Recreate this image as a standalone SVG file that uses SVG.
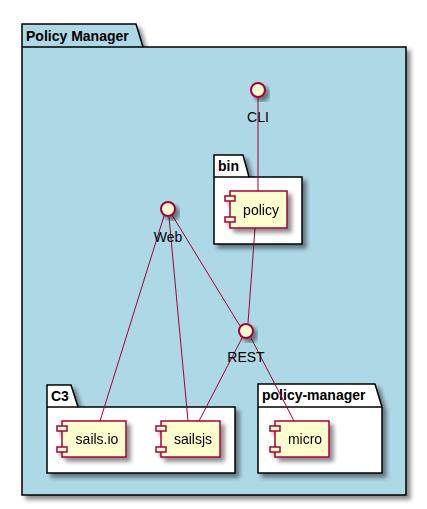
<svg xmlns="http://www.w3.org/2000/svg" width="427" height="509" viewBox="0 0 427 509">
<defs>
<filter id="sh" x="-20%" y="-20%" width="150%" height="150%">
<feGaussianBlur in="SourceAlpha" stdDeviation="2" result="b"/>
<feOffset in="b" dx="4" dy="4" result="o"/>
<feComponentTransfer in="o" result="s"><feFuncA type="linear" slope="0.45"/></feComponentTransfer>
<feMerge><feMergeNode in="s"/><feMergeNode in="SourceGraphic"/></feMerge>
</filter>
</defs>
<style>
.pk{stroke:#000;stroke-width:1.5;filter:url(#sh)}
.pt{font-family:"Liberation Sans",Arial,sans-serif;font-size:14px;font-weight:bold;fill:#000}
.cp{fill:#FEFECE;stroke:#A80036;stroke-width:1.5}
.lb{font-family:"Liberation Sans",Arial,sans-serif;font-size:14px;fill:#000}
.if{fill:#FEFECE;stroke:#A80036;stroke-width:2;filter:url(#sh)}
.ln{stroke:#A80036;stroke-width:1;fill:none}
</style>
<g id="pkg-policy-manager-outer">
<path class="pk" fill="#ADD8E6" d="M22,24 L136,24 L143,47 L406,47 L406,495 L22,495 Z"/>
<line x1="22" y1="47" x2="143" y2="47" stroke="#000" stroke-width="1.5"/>
<text class="pt" x="26" y="41">Policy Manager</text>
</g>
<g id="pkg-bin">
<path class="pk" fill="#FFFFFF" d="M214,155 L243,155 L249,177 L302,177 L302,244 L214,244 Z"/>
<line x1="214" y1="177" x2="249" y2="177" stroke="#000" stroke-width="1.5"/>
<text class="pt" x="218" y="171">bin</text>
</g>
<g id="pkg-c3">
<path class="pk" fill="#FFFFFF" d="M47,385 L71,385 L78,407 L235,407 L235,473 L47,473 Z"/>
<line x1="47" y1="407" x2="78" y2="407" stroke="#000" stroke-width="1.5"/>
<text class="pt" x="51" y="401">C3</text>
</g>
<g id="pkg-policy-manager">
<path class="pk" fill="#FFFFFF" d="M258,384 L375,384 L382,407 L382,473 L258,473 Z"/>
<line x1="258" y1="407" x2="382" y2="407" stroke="#000" stroke-width="1.5"/>
<text class="pt" x="262" y="400">policy-manager</text>
</g>
<g id="connectors">
<line class="ln" x1="258" y1="98" x2="258" y2="191"/>
<line class="ln" x1="255" y1="228" x2="248" y2="323"/>
<line class="ln" x1="172" y1="215" x2="240" y2="326"/>
<line class="ln" x1="164" y1="216" x2="100" y2="421"/>
<line class="ln" x1="169" y1="217" x2="188" y2="421"/>
<line class="ln" x1="242" y1="338" x2="199" y2="421"/>
<line class="ln" x1="251" y1="338" x2="294" y2="421"/>
</g>
<g id="if-cli">
<circle class="if" cx="258" cy="90" r="7"/>
<text class="lb" x="258" y="122" text-anchor="middle">CLI</text>
</g>
<g id="if-web">
<circle class="if" cx="168" cy="209" r="7"/>
<text class="lb" x="168" y="242" text-anchor="middle">Web</text>
</g>
<g id="if-rest">
<circle class="if" cx="246" cy="331" r="7"/>
<text class="lb" x="246" y="362" text-anchor="middle">REST</text>
</g>
<g id="comp-policy" filter="url(#sh)">
<rect class="cp" x="230" y="191" width="57" height="37"/>
<rect class="cp" x="225" y="196" width="10" height="5"/>
<rect class="cp" x="225" y="217" width="10" height="5"/>
<text class="lb" x="261" y="215" text-anchor="middle">policy</text>
</g>
<g id="comp-sails-io" filter="url(#sh)">
<rect class="cp" x="62" y="421" width="64" height="36"/>
<rect class="cp" x="57" y="426" width="10" height="5"/>
<rect class="cp" x="57" y="447" width="10" height="5"/>
<text class="lb" x="97" y="444" text-anchor="middle">sails.io</text>
</g>
<g id="comp-sailsjs" filter="url(#sh)">
<rect class="cp" x="161" y="421" width="59" height="36"/>
<rect class="cp" x="156" y="426" width="10" height="5"/>
<rect class="cp" x="156" y="447" width="10" height="5"/>
<text class="lb" x="193" y="444" text-anchor="middle">sailsjs</text>
</g>
<g id="comp-micro" filter="url(#sh)">
<rect class="cp" x="275" y="421" width="54" height="36"/>
<rect class="cp" x="270" y="426" width="10" height="5"/>
<rect class="cp" x="270" y="447" width="10" height="5"/>
<text class="lb" x="305" y="444" text-anchor="middle">micro</text>
</g>
</svg>
